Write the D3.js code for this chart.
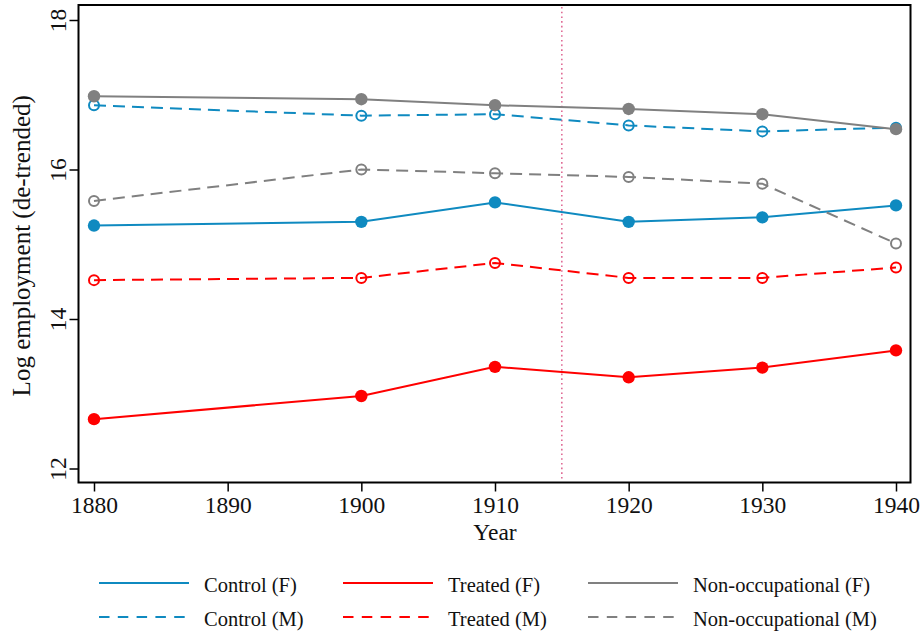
<!DOCTYPE html>
<html><head><meta charset="utf-8">
<script src="https://cdn.jsdelivr.net/npm/d3@7"></script>
<style>
html,body{margin:0;padding:0;background:#fff;}
svg{display:block;font-family:"Liberation Serif","Times New Roman",serif;}
svg text{font-family:"Liberation Serif","Times New Roman",serif;}
</style></head>
<body>
<svg id="chart" width="924" height="636"></svg>
<script>
const years = [1880, 1900, 1910, 1920, 1930, 1940];
const controlF = [15.25, 15.30, 15.56, 15.30, 15.36, 15.52];
const controlM = [16.86, 16.72, 16.74, 16.59, 16.51, 16.56];
const treatedF = [12.66, 12.97, 13.36, 13.22, 13.35, 13.58];
const treatedM = [14.52, 14.55, 14.75, 14.55, 14.55, 14.69];
const nonOccF = [16.98, 16.94, 16.86, 16.81, 16.74, 16.54];
const nonOccM = [15.58, 16.00, 15.95, 15.90, 15.81, 15.01];
const xTicks = [1880, 1890, 1900, 1910, 1920, 1930, 1940];
const yTicks = [12, 14, 16, 18];
const eventYear = 1915;

const BLUE = "#0f8ac0", RED = "#ff0000", GRAY = "#808080";
const series = [
  {name: "Control (F)", values: controlF, color: BLUE, dashed: false},
  {name: "Control (M)", values: controlM, color: BLUE, dashed: true},
  {name: "Treated (F)", values: treatedF, color: RED, dashed: false},
  {name: "Treated (M)", values: treatedM, color: RED, dashed: true},
  {name: "Non-occupational (F)", values: nonOccF, color: GRAY, dashed: false},
  {name: "Non-occupational (M)", values: nonOccM, color: GRAY, dashed: true}
];

const svg = d3.select("#chart");
const frame = {left: 78.5, top: 5, right: 910.5, bottom: 482.5};
const x = d3.scaleLinear().domain([1880, 1940]).range([94, 896]);
const y = d3.scaleLinear().domain([12, 18]).range([468.5, 20]);

// event line
svg.append("line")
  .attr("x1", x(eventYear)).attr("x2", x(eventYear))
  .attr("y1", frame.top + 2).attr("y2", frame.bottom - 2)
  .attr("stroke", "#d8457a").attr("stroke-width", 1.4)
  .attr("stroke-dasharray", "1.6,3.1").attr("opacity", 0.9);

// series
const line = d3.line().x((d, i) => x(years[i])).y(d => y(d));
series.forEach(s => {
  const g = svg.append("g");
  g.append("path").datum(s.values)
    .attr("d", line).attr("fill", "none")
    .attr("stroke", s.color).attr("stroke-width", 2)
    .attr("stroke-dasharray", s.dashed ? "12,7" : null);
  g.selectAll("circle").data(s.values).join("circle")
    .attr("cx", (d, i) => x(years[i])).attr("cy", d => y(d))
    .attr("r", s.dashed ? 5 : 6.2)
    .attr("fill", s.dashed ? "none" : s.color)
    .attr("stroke", s.dashed ? s.color : "none")
    .attr("stroke-width", s.dashed ? 2 : 0);
});

// frame
svg.append("rect")
  .attr("x", frame.left).attr("y", frame.top)
  .attr("width", frame.right - frame.left).attr("height", frame.bottom - frame.top)
  .attr("fill", "none").attr("stroke", "#000").attr("stroke-width", 2);

// x axis
const xAxis = d3.axisBottom(x).tickValues(xTicks).tickFormat(d3.format("d")).tickSize(9).tickPadding(5);
const xg = svg.append("g").attr("transform", `translate(0,${frame.bottom})`).call(xAxis)
  .attr("font-family", null).attr("font-size", null);
xg.select(".domain").remove();
xg.selectAll(".tick line").attr("stroke", "#000").attr("stroke-width", 1.5);
xg.selectAll(".tick text").attr("font-size", 23.5).attr("fill", "#111");

// y axis
const yAxis = d3.axisLeft(y).tickValues(yTicks).tickFormat(d3.format("d")).tickSize(9).tickPadding(0);
const yg = svg.append("g").attr("transform", `translate(${frame.left},0)`).call(yAxis)
  .attr("font-family", null).attr("font-size", null);
yg.select(".domain").remove();
yg.selectAll(".tick line").attr("stroke", "#000").attr("stroke-width", 1.5);
yg.selectAll(".tick text").attr("font-size", 23.5).attr("fill", "#111")
  .attr("text-anchor", "middle")
  .attr("x", null)
  .attr("transform", "translate(-21,0) rotate(-90)")
  .attr("dy", "0.35em");

// axis titles
svg.append("text").attr("x", x(1910)).attr("y", 540)
  .attr("text-anchor", "middle").attr("font-size", 23.5).attr("fill", "#111").text("Year");
svg.append("text")
  .attr("transform", `translate(30,${(frame.top + frame.bottom) / 2 + 2}) rotate(-90)`)
  .attr("text-anchor", "middle").attr("font-size", 25).attr("fill", "#111")
  .text("Log employment (de-trended)");

// legend
const legCols = [99, 343, 588];
const legRows = [583, 617];
series.forEach((s, i) => {
  const col = Math.floor(i / 2), row = i % 2;
  const lx = legCols[col], ly = legRows[row];
  svg.append("line").attr("x1", lx).attr("x2", lx + 90).attr("y1", ly).attr("y2", ly)
    .attr("stroke", s.color).attr("stroke-width", 2)
    .attr("stroke-dasharray", s.dashed ? "10.5,8.3" : null);
  svg.append("text").attr("x", lx + 105).attr("y", ly + 8.5)
    .attr("font-size", 20.5).attr("fill", "#111").text(s.name);
});
</script>
</body></html>
